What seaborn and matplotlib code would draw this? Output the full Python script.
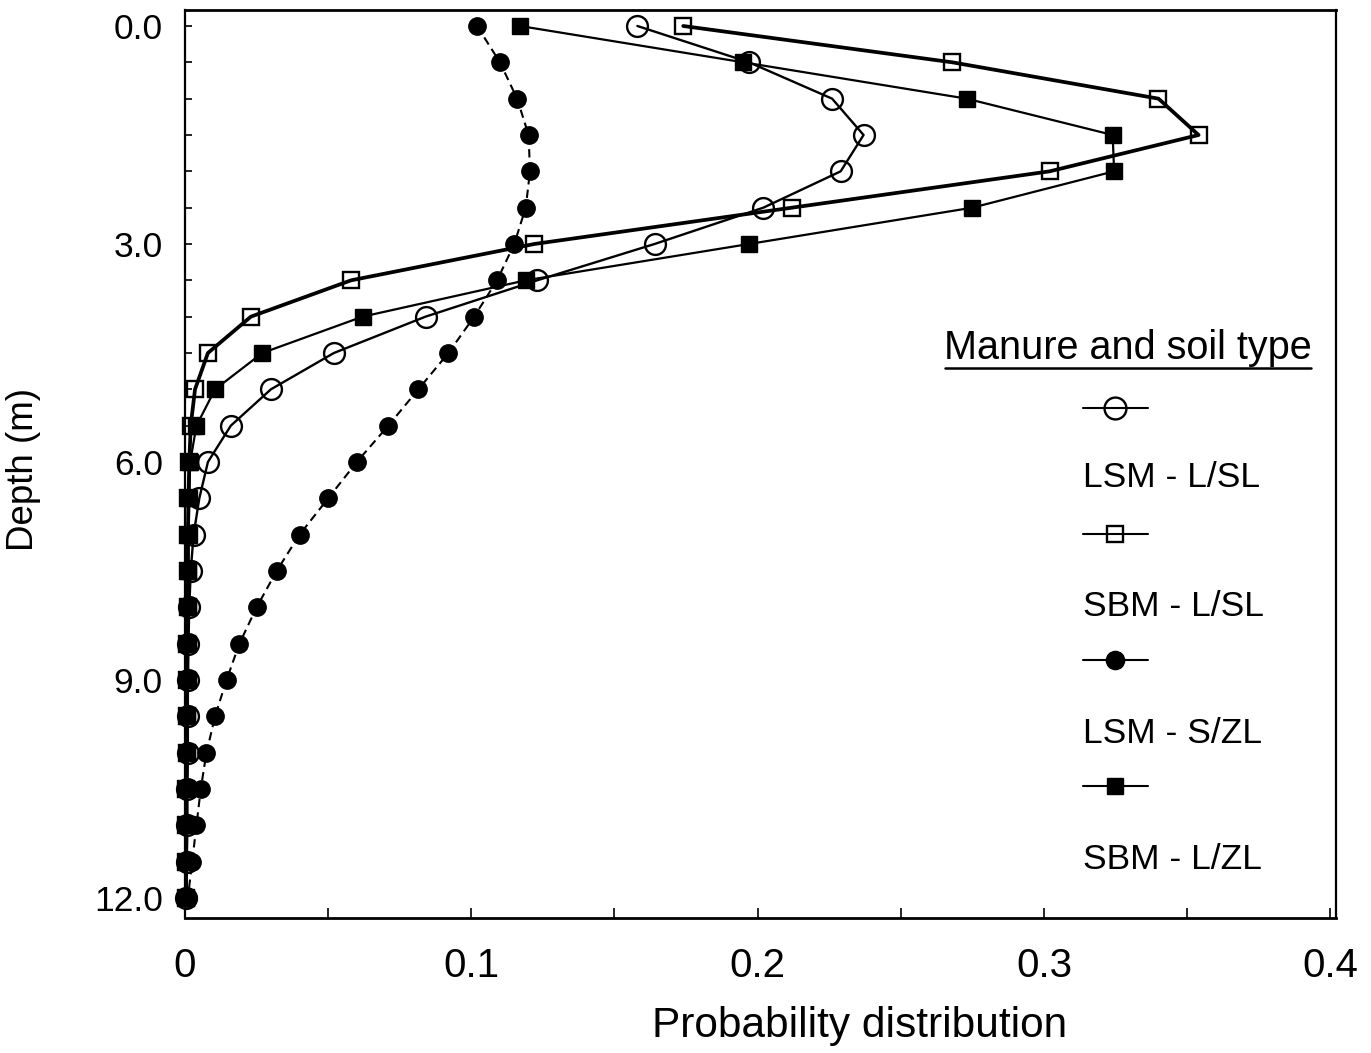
import numpy as np
import pandas as pd
import matplotlib
matplotlib.use("Agg")
import matplotlib.pyplot as plt
from matplotlib.lines import Line2D
from matplotlib.ticker import MultipleLocator, FixedLocator
import seaborn as sns

# ---------------- data ----------------
depth = [0.0, 0.5, 1.0, 1.5, 2.0, 2.5, 3.0, 3.5, 4.0, 4.5, 5.0, 5.5, 6.0,
         6.5, 7.0, 7.5, 8.0, 8.5, 9.0, 9.5, 10.0, 10.5, 11.0, 11.5, 12.0]

lsm_lsl = [0.158, 0.197, 0.226, 0.237, 0.229, 0.202, 0.164, 0.123, 0.084, 0.052,
           0.030, 0.016, 0.008, 0.005, 0.003, 0.002, 0.0015, 0.0012, 0.001, 0.001,
           0.001, 0.0008, 0.0008, 0.0006, 0.0005]
sbm_lsl = [0.174, 0.268, 0.340, 0.354, 0.302, 0.212, 0.122, 0.058, 0.023, 0.008,
           0.0035, 0.002, 0.0015, 0.0012, 0.001, 0.001, 0.001, 0.0008, 0.0008, 0.0007,
           0.0006, 0.0005, 0.0005, 0.0004, 0.0004]
lsm_szl = [0.102, 0.110, 0.116, 0.120, 0.1205, 0.119, 0.115, 0.109, 0.101, 0.092,
           0.0815, 0.071, 0.060, 0.050, 0.040, 0.032, 0.025, 0.019, 0.0145, 0.0105,
           0.0075, 0.0055, 0.004, 0.0025, 0.001]
sbm_lzl = [0.117, 0.195, 0.273, 0.324, 0.3245, 0.275, 0.197, 0.119, 0.062, 0.027,
           0.0105, 0.004, 0.0018, 0.0015, 0.0013, 0.0012, 0.001, 0.001, 0.0009, 0.0008,
           0.0008, 0.0007, 0.0006, 0.0005, 0.0005]

labels = ["LSM - L/SL", "SBM - L/SL", "LSM - S/ZL", "SBM - L/ZL"]
x_ticks = [0, 0.1, 0.2, 0.3, 0.4]
x_ticklabels = ["0", "0.1", "0.2", "0.3", "0.4"]
y_ticks = [0, 3, 6, 9, 12]
y_ticklabels = ["0.0", "3.0", "6.0", "9.0", "12.0"]

# ---------------- style ----------------
sns.set_theme(style="white")
plt.rcParams["font.family"] = ["Liberation Sans", "DejaVu Sans"]

fig = plt.figure(figsize=(13.71, 10.53), dpi=100)
ax = fig.add_axes([185 / 1371, 1 - 918 / 1053, (1336 - 185) / 1371, (918 - 10) / 1053])

styles = {
    "LSM - L/SL": dict(marker="o", markersize=15, markerfacecolor="none",
                       markeredgecolor="black", markeredgewidth=1.7,
                       linestyle="-", linewidth=1.7),
    "SBM - L/SL": dict(marker="s", markersize=11.5, markerfacecolor="none",
                       markeredgecolor="black", markeredgewidth=1.7,
                       linestyle="-", linewidth=2.7),
    "SBM - L/ZL": dict(marker="s", markersize=11.5, markerfacecolor="black",
                       markeredgecolor="black", markeredgewidth=1.0,
                       linestyle="-", linewidth=1.6),
    "LSM - S/ZL": dict(marker="o", markersize=12.5, markerfacecolor="black",
                       markeredgecolor="black", markeredgewidth=1.0,
                       linestyle=(0, (4, 2.5)), linewidth=1.5),
}
series = {"LSM - L/SL": lsm_lsl, "SBM - L/SL": sbm_lsl,
          "LSM - S/ZL": lsm_szl, "SBM - L/ZL": sbm_lzl}

for name in ["LSM - L/SL", "SBM - L/SL", "SBM - L/ZL", "LSM - S/ZL"]:
    df = pd.DataFrame({"prob": series[name], "depth": depth})
    sns.lineplot(data=df, x="prob", y="depth", sort=False, estimator=None,
                 color="black", ax=ax, clip_on=False, zorder=3, **styles[name])

ax.set_xlim(0, 0.402)
ax.set_ylim(12.275, -0.22)

ax.xaxis.set_major_locator(FixedLocator(x_ticks))
ax.set_xticklabels(x_ticklabels)
ax.xaxis.set_minor_locator(MultipleLocator(0.05))
ax.yaxis.set_major_locator(FixedLocator(y_ticks))
ax.set_yticklabels(y_ticklabels)
ax.yaxis.set_minor_locator(MultipleLocator(0.5))

ax.tick_params(axis="x", which="both", direction="in", length=7, width=1.2,
               bottom=True, top=False, labelsize=29, pad=21, colors="black")
ax.tick_params(axis="y", which="both", direction="in", length=5, width=1.2,
               left=True, right=False, labelsize=25.5, pad=16, colors="black")

for s in ["top", "bottom"]:
    ax.spines[s].set_color("black")
    ax.spines[s].set_linewidth(2.0)
for s in ["left", "right"]:
    ax.spines[s].set_color("black")
    ax.spines[s].set_linewidth(1.6)
    ax.spines[s].set_linestyle((0, (1, 1)))

ax.set_xlabel("Probability distribution", fontsize=30.5, color="black")
ax.xaxis.set_label_coords(0.586, -0.097)
ax.set_ylabel("Depth (m)", fontsize=26.5, color="black")
ax.yaxis.set_label_coords(-0.125, 0.494)

# ---------------- legend (custom layout) ----------------
ax.text(0.819, 0.628, "Manure and soil type", transform=ax.transAxes,
        ha="center", va="center", fontsize=28.5, color="black")
ax.add_line(Line2D([0.66, 0.978], [0.606, 0.606], transform=ax.transAxes,
                   color="black", linewidth=1.8, clip_on=False))

marker_rows = [0.5617, 0.4229, 0.2841, 0.1454]
label_rows = [0.4846, 0.3436, 0.2037, 0.0639]
for name, my, ly in zip(labels, marker_rows, label_rows):
    st = dict(styles[name])
    ax.add_line(Line2D([0.780, 0.8367], [my, my], transform=ax.transAxes,
                       color="black", linestyle="-", linewidth=1.5, clip_on=False))
    ax.add_line(Line2D([0.808], [my], transform=ax.transAxes, color="black",
                       linestyle="none", marker=st["marker"],
                       markersize=st["markersize"] * 1.05, markerfacecolor=st["markerfacecolor"],
                       markeredgecolor="black", markeredgewidth=st["markeredgewidth"],
                       clip_on=False))
    ax.text(0.780, ly, name, transform=ax.transAxes, ha="left", va="center",
            fontsize=25.5, color="black")

fig.savefig("out.png", dpi=100, facecolor="white")
